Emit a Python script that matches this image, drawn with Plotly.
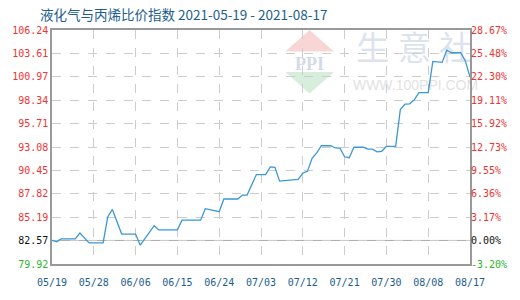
import plotly.graph_objects as go

# 液化气与丙烯比价指数 (base 82.57)
dates = [
    "2021-05-19", "2021-05-20", "2021-05-21", "2021-05-24", "2021-05-25",
    "2021-05-27", "2021-05-30", "2021-05-31", "2021-06-01", "2021-06-03",
    "2021-06-06", "2021-06-07", "2021-06-10", "2021-06-11", "2021-06-15",
    "2021-06-16", "2021-06-20", "2021-06-21", "2021-06-24", "2021-06-25",
    "2021-06-28", "2021-06-29", "2021-06-30", "2021-07-02", "2021-07-04",
    "2021-07-05", "2021-07-06", "2021-07-07", "2021-07-11", "2021-07-12",
    "2021-07-13", "2021-07-14", "2021-07-15", "2021-07-16", "2021-07-18",
    "2021-07-19", "2021-07-20", "2021-07-21", "2021-07-22", "2021-07-23",
    "2021-07-25", "2021-07-26", "2021-07-27", "2021-07-28", "2021-07-29",
    "2021-07-30", "2021-08-01", "2021-08-02", "2021-08-03", "2021-08-04",
    "2021-08-05", "2021-08-06", "2021-08-08", "2021-08-09", "2021-08-11",
    "2021-08-12", "2021-08-13", "2021-08-15", "2021-08-16", "2021-08-17",
]
values = [
    82.57, 82.43, 82.74, 82.74, 83.40,
    82.30, 82.30, 85.22, 86.06, 83.29,
    83.29, 82.04, 84.23, 83.76, 83.76,
    84.85, 84.85, 86.14, 85.81, 87.23,
    87.23, 87.67, 87.67, 89.98, 89.98,
    90.85, 90.80, 89.24, 89.43, 90.15,
    90.34, 91.80, 92.42, 93.22, 93.22,
    92.97, 92.95, 91.98, 91.87, 93.05,
    93.05, 92.83, 92.83, 92.53, 92.60,
    93.16, 93.16, 97.30, 97.90, 97.94,
    98.38, 99.19, 99.19, 102.70, 102.60,
    103.97, 103.68, 103.68, 102.76, 100.95,
]

x_ticks = ["2021-05-19", "2021-05-28", "2021-06-06", "2021-06-15", "2021-06-24",
           "2021-07-03", "2021-07-12", "2021-07-21", "2021-07-30", "2021-08-08",
           "2021-08-17"]
y_ticks = [79.92, 82.57, 85.19, 87.82, 90.45, 93.08, 95.71, 98.34, 100.97, 103.61, 106.24]
y_labels = ["79.92", "82.57", "85.19", "87.82", "90.45", "93.08", "95.71",
            "98.34", "100.97", "103.61", "106.24"]
pct_labels = ["-3.20%", "0.00%", "3.17%", "6.36%", "9.55%", "12.73%", "15.92%",
              "19.11%", "22.30%", "25.48%", "28.67%"]
base_value = 82.57

RED, GREEN, BLACK = "#f03333", "#2db52d", "#111111"
LINE = "#3b98d6"
TEXT_BLUE = "#1d5e8c"


def colored(labels, ticks):
    out = []
    for lab, v in zip(labels, ticks):
        if abs(v - base_value) < 1e-6:
            c = BLACK
        elif v < base_value:
            c = GREEN
        else:
            c = RED
        out.append(f'<span style="color:{c}">{lab}</span>')
    return out


fig = go.Figure()
fig.add_trace(go.Scatter(
    x=dates, y=values, mode="lines",
    line=dict(color=LINE, width=1.3),
    hoverinfo="x+y", showlegend=False,
))
# invisible companion trace so the right-hand percent axis is drawn
fig.add_trace(go.Scatter(
    x=dates, y=values, yaxis="y2", mode="lines",
    line=dict(color="rgba(0,0,0,0)", width=0),
    hoverinfo="skip", showlegend=False,
))

mono = "DejaVu Sans Mono"
yr = [y_ticks[0], y_ticks[-1]]

fig.update_layout(
    width=520, height=300,
    margin=dict(l=40, r=50, t=30, b=30),
    paper_bgcolor="white", plot_bgcolor="white",
    title=dict(
        text="液化气与丙烯比价指数 2021-05-19 - 2021-08-17",
        x=40 / 520, xanchor="left", y=1 - 15 / 300, yanchor="middle",
        font=dict(family="Noto Sans CJK SC", size=13.5, color=TEXT_BLUE),
    ),
    xaxis=dict(
        type="date", range=[dates[0], dates[-1]],
        tickvals=x_ticks, tickformat="%m/%d",
        tickfont=dict(family=mono, size=10, color=TEXT_BLUE),
        ticklabelstandoff=8,
        showgrid=True, gridcolor="#cccccc", griddash="dash", gridwidth=1,
        showline=True, linecolor="#999999", linewidth=1.5, mirror=True,
        ticks="", zeroline=False,
    ),
    yaxis=dict(
        range=yr, tickvals=y_ticks, ticktext=colored(y_labels, y_ticks),
        tickfont=dict(family=mono, size=10, color=RED),
        showgrid=True, gridcolor="#cccccc", griddash="dash", gridwidth=1,
        showline=True, linecolor="#999999", linewidth=1.5, mirror=True,
        ticks="", zeroline=False,
    ),
    yaxis2=dict(
        overlaying="y", side="right", range=yr,
        tickvals=y_ticks, ticktext=colored(pct_labels, y_ticks),
        tickfont=dict(family=mono, size=10, color=RED),
        showgrid=False, zeroline=False, ticks="", showline=False,
    ),
)

# solid base line at the reference value
fig.add_shape(type="line", xref="paper", yref="y", x0=0, x1=1,
              y0=base_value, y1=base_value,
              line=dict(color="#aaaaaa", width=1), layer="below")


# 生意社 watermark, placed in plot-area pixels
def px_x(p):
    return (p - 40) / 430


def px_y(p):
    return (270 - p) / 240


def wm_text(text, xc, yc, w, h, size, color, family, bold=False):
    t = f"<b>{text}</b>" if bold else text
    fig.add_shape(type="rect", xref="paper", yref="paper", layer="below",
                  x0=px_x(xc - w / 2), x1=px_x(xc + w / 2),
                  y0=px_y(yc + h / 2), y1=px_y(yc - h / 2),
                  line=dict(width=0), fillcolor="rgba(0,0,0,0)",
                  label=dict(text=t, textposition="middle center",
                             font=dict(family=family, size=size, color=color)))


fig.add_shape(type="path", xref="paper", yref="paper", layer="below",
              path=f"M {px_x(280)} {px_y(52)} L {px_x(305)} {px_y(30)} L {px_x(330)} {px_y(52)} Z",
              fillcolor="#f8d6d6", line=dict(width=0))
fig.add_shape(type="path", xref="paper", yref="paper", layer="below",
              path=f"M {px_x(280)} {px_y(73)} L {px_x(305)} {px_y(95)} L {px_x(330)} {px_y(73)} Z",
              fillcolor="#d8eedc", line=dict(width=0))
wm_text("PPI", 305, 63, 50, 18, 18, "#d3dae8", "Liberation Serif", bold=True)
for ch, xc in zip(["生", "意", "社"], [370, 413, 455]):
    wm_text(ch, xc, 52, 40, 40, 33, "#dde3ed", "Noto Sans CJK SC")
wm_text("WWW.100PPI.COM", 414, 85, 130, 16, 14, "#e2e2e2", "Liberation Sans")

fig.write_html("out.html")
